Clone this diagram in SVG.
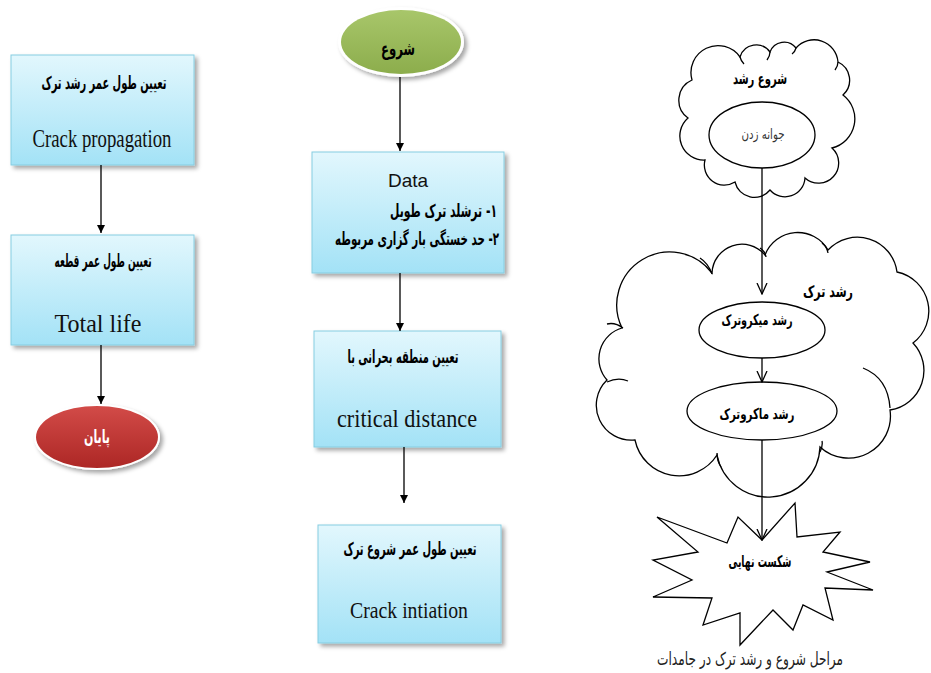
<svg xmlns="http://www.w3.org/2000/svg" width="931" height="673" viewBox="0 0 931 673">
<defs>
<linearGradient id="gBox" x1="0" y1="0" x2="0" y2="1">
<stop offset="0" stop-color="#e2f7fd"/>
<stop offset="1" stop-color="#a3e2f6"/>
</linearGradient>
<linearGradient id="gRed" x1="0" y1="0" x2="0" y2="1">
<stop offset="0" stop-color="#d24b48"/>
<stop offset="1" stop-color="#ad2725"/>
</linearGradient>
<linearGradient id="gGreen" x1="0" y1="0" x2="0" y2="1">
<stop offset="0" stop-color="#a8c66a"/>
<stop offset="1" stop-color="#8cad4c"/>
</linearGradient>
<filter id="sh" x="-10%" y="-10%" width="130%" height="130%">
<feDropShadow dx="3" dy="3" stdDeviation="2" flood-color="#000" flood-opacity="0.35"/>
</filter>
<marker id="tri" viewBox="0 0 10 10" refX="10" refY="5" markerWidth="12" markerHeight="8" markerUnits="userSpaceOnUse" orient="auto">
<path d="M0,0 L10,5 L0,10 z" fill="#000"/>
</marker>
<marker id="vee" viewBox="0 0 12 12" refX="11" refY="6" markerWidth="12" markerHeight="12" markerUnits="userSpaceOnUse" orient="auto">
<path d="M0,1 L11,6 L0,11" fill="none" stroke="#000" stroke-width="1.3"/>
</marker>
</defs>
<style>
.box{fill:url(#gBox);stroke:#86cde1;stroke-width:1;filter:url(#sh)}
.fa{font-family:"DejaVu Sans",sans-serif;font-weight:bold;fill:#000}
.fan{font-family:"DejaVu Sans",sans-serif;fill:#333}
.en{font-family:"Liberation Serif",serif;fill:#111}
.cl{fill:#fff;stroke:#000;stroke-width:1.3}
.ln{fill:none;stroke:#000;stroke-width:1.3}
.conn{fill:none;stroke:#000;stroke-width:1.3}
</style>
<rect width="931" height="673" fill="#fff"/>

<!-- left column -->
<g id="n-crack-propagation">
<rect class="box" x="11" y="55" width="183" height="110"/>
<text class="fa" x="104" y="89" font-size="18" text-anchor="middle" direction="rtl" textLength="125" lengthAdjust="spacingAndGlyphs">تعیین طول عمر رشد ترک</text>
<text class="en" x="102" y="147" font-size="25" text-anchor="middle" textLength="139" lengthAdjust="spacingAndGlyphs">Crack propagation</text>
</g>
<g id="n-total-life">
<rect class="box" x="11" y="235" width="183" height="110"/>
<text class="fa" x="103" y="267" font-size="18" text-anchor="middle" direction="rtl" textLength="97" lengthAdjust="spacingAndGlyphs">تعیین طول عمر قطعه</text>
<text class="en" x="98" y="332" font-size="25" text-anchor="middle" textLength="87" lengthAdjust="spacingAndGlyphs">Total life</text>
</g>
<g id="n-end">
<ellipse cx="97" cy="437" rx="63" ry="33" fill="#fff" filter="url(#sh)"/>
<ellipse cx="97" cy="437" rx="61" ry="31" fill="url(#gRed)"/>
<text x="97" y="443" font-family="DejaVu Sans,sans-serif" font-weight="bold" font-size="18" fill="#fff" text-anchor="middle" direction="rtl" textLength="26" lengthAdjust="spacingAndGlyphs">پایان</text>
</g>

<!-- middle column -->
<g id="n-start">
<ellipse cx="401" cy="42" rx="63" ry="35" fill="#fff" filter="url(#sh)"/>
<ellipse cx="401" cy="42" rx="60" ry="32" fill="url(#gGreen)"/>
<text class="fa" x="398" y="55" font-size="19" text-anchor="middle" direction="rtl" textLength="34" lengthAdjust="spacingAndGlyphs">شروع</text>
</g>
<g id="n-data">
<rect class="box" x="312" y="152" width="192" height="121"/>
<text x="408" y="187" font-family="Liberation Sans,sans-serif" font-size="19" fill="#111" text-anchor="middle">Data</text>
<text class="fa" x="443.5" y="217" font-size="18" text-anchor="middle" direction="rtl" textLength="107" lengthAdjust="spacingAndGlyphs">۱- ترشلد ترک طویل</text>
<text class="fa" x="417" y="245" font-size="18" text-anchor="middle" direction="rtl" textLength="164" lengthAdjust="spacingAndGlyphs">۲- حد خستگی  بار گزاری مربوطه</text>
</g>
<g id="n-critical-distance">
<rect class="box" x="314" y="331" width="187" height="116"/>
<text class="fa" x="403" y="363" font-size="18" text-anchor="middle" direction="rtl" textLength="111" lengthAdjust="spacingAndGlyphs">تعیین منطقه بحرانی با</text>
<text class="en" x="407" y="427" font-size="25" text-anchor="middle" textLength="140" lengthAdjust="spacingAndGlyphs">critical distance</text>
</g>
<g id="n-crack-initiation">
<rect class="box" x="318" y="525" width="183" height="118"/>
<text class="fa" x="410" y="555" font-size="18" text-anchor="middle" direction="rtl" textLength="133" lengthAdjust="spacingAndGlyphs">تعیین طول عمر شروع ترک</text>
<text class="en" x="409" y="618" font-size="23" text-anchor="middle" textLength="118" lengthAdjust="spacingAndGlyphs">Crack intiation</text>
</g>

<!-- right column -->
<g id="n-cloud-initiation">
<path class="cl" d="M692,80 A27,27 0 0 1 740,57 A17,17 0 0 1 770,52 A15,15 0 0 1 796,48 A24,24 0 0 1 838,62 A20,20 0 0 1 843,95 A30,30 0 0 1 832,148 A18,18 0 0 1 805,178 A20,20 0 0 1 770,190 A20,20 0 0 1 735,182 A20,20 0 0 1 705,160 A24,24 0 0 1 688,118 A22,22 0 0 1 692,80 Z"/>
<path class="ln" d="M740,57 Q741,61 744,64 M770,52 Q770,56 767,60 M796,48 Q795,52 792,54 M838,62 Q838,66 835,70"/>
<text class="fa" x="760" y="84" font-size="16" text-anchor="middle" direction="rtl" textLength="54" lengthAdjust="spacingAndGlyphs">شروع رشد</text>
<ellipse class="cl" cx="762" cy="135" rx="53" ry="33"/>
<text class="fan" x="763" y="139" font-size="14" text-anchor="middle" direction="rtl" textLength="43" lengthAdjust="spacingAndGlyphs">جوانه زدن</text>
</g>
<g id="n-cloud-growth">
<path class="cl" d="M622,328 A53,53 0 0 1 712,273 A30,30 0 0 1 765,255 A35,35 0 0 1 828,250 A40,40 0 0 1 897,272 A40,40 0 0 1 913,343 A40,40 0 0 1 890,410 A42,42 0 0 1 820,447 A52,52 0 0 1 717,455 A45,45 0 0 1 635,440 A35,35 0 0 1 607,380 A32,32 0 0 1 622,328 Z"/>
<path class="ln" d="M700,258 Q708,263 712,274 M760,248 Q765,251 766,257 M822,243 Q827,247 828,253 M863,368 Q888,378 890,408 M822,441 Q823,446 820,452 M717,453 Q717,461 721,467 M607,382 Q618,377 628,381 M607,324 Q615,322 623,328"/>
<text class="fa" x="828" y="297" font-size="16" text-anchor="middle" direction="rtl" textLength="50" lengthAdjust="spacingAndGlyphs">رشد ترک</text>
</g>
<g id="n-micro">
<ellipse class="cl" cx="762" cy="330" rx="63" ry="28"/>
<text class="fa" x="757" y="325" font-size="15" text-anchor="middle" direction="rtl" textLength="71" lengthAdjust="spacingAndGlyphs">رشد میکروترک</text>
</g>
<g id="n-macro">
<ellipse class="cl" cx="762" cy="411" rx="75" ry="29"/>
<text class="fa" x="757" y="419" font-size="15" text-anchor="middle" direction="rtl" textLength="75" lengthAdjust="spacingAndGlyphs">رشد ماکروترک</text>
</g>
<g id="n-fracture">
<polygon class="cl" points="657,517 727,543 738,517 762,540 795,503 797,537 840,532 823,552 870,562 827,572 873,590 825,588 833,620 803,605 793,630 773,610 740,645 740,613 703,625 712,598 653,597 692,580 653,560 698,552"/>
<text class="fa" x="760" y="567" font-size="16" text-anchor="middle" direction="rtl" textLength="63" lengthAdjust="spacingAndGlyphs">شکست نهایی</text>
</g>
<g id="caption">
<text x="750" y="665" font-family="DejaVu Sans,sans-serif" font-size="18" fill="#222" text-anchor="middle" direction="rtl" textLength="186" lengthAdjust="spacingAndGlyphs">مراحل شروع و رشد ترک در جامدات</text>
</g>

<!-- connectors -->
<g id="connectors">
<path class="conn" d="M101,165 V233" marker-end="url(#tri)"/>
<path class="conn" d="M101,345 V404" marker-end="url(#tri)"/>
<path class="conn" d="M400,77 V151" marker-end="url(#tri)"/>
<path class="conn" d="M400,273 V331" marker-end="url(#tri)"/>
<path class="conn" d="M404,447 V503" marker-end="url(#tri)"/>
<path class="conn" d="M762,168 V294" marker-end="url(#vee)"/>
<path class="conn" d="M762,358 V382" marker-end="url(#vee)"/>
<path class="conn" d="M762,440 V540" marker-end="url(#vee)"/>
</g>
</svg>
